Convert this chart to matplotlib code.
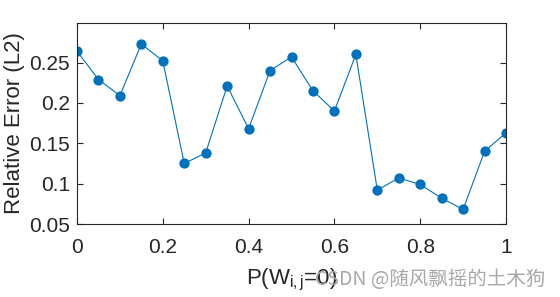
import matplotlib.pyplot as plt
import numpy as np

# Werte
p_null = np.arange(0, 1.0001, 0.05)
rel_fehler = [0.264, 0.229, 0.209, 0.273, 0.252, 0.125, 0.138, 0.221, 0.168, 0.240,
              0.257, 0.215, 0.190, 0.260, 0.092, 0.107, 0.099, 0.082, 0.068, 0.140, 0.163]
y_ticks = [0.05, 0.1, 0.15, 0.2, 0.25]
x_ticks = [0, 0.2, 0.4, 0.6, 0.8, 1]

plt.rcParams["font.family"] = ["Liberation Sans", "DejaVu Sans"]
plt.rcParams["mathtext.fontset"] = "custom"
plt.rcParams["mathtext.rm"] = "Liberation Sans"
plt.rcParams["mathtext.it"] = "Liberation Sans"

fig = plt.figure(figsize=(5.6, 2.97), dpi=100)
ax = fig.add_axes([77 / 560, 1 - 224 / 297, 429 / 560, 201 / 297])

ax.plot(p_null, rel_fehler, color="#0072BD", lw=0.8, marker="o", ms=7.4,
        markeredgewidth=0)

ax.set_xlim(0, 1)
ax.set_ylim(0.05, 0.299)
ax.set_xticks(x_ticks)
ax.set_xticklabels(["0", "0.2", "0.4", "0.6", "0.8", "1"])
ax.set_yticks(y_ticks)
ax.set_yticklabels(["0.05", "0.1", "0.15", "0.2", "0.25"])
ax.tick_params(direction="in", top=True, right=True, length=4, width=0.8,
               labelsize=15, colors="#262626")
ax.tick_params(axis="x", pad=10)
ax.tick_params(axis="y", pad=5)
for s in ax.spines.values():
    s.set_color("#262626")
    s.set_linewidth(0.8)

ax.set_ylabel("Relative Error (L2)", fontsize=16, color="#262626", labelpad=3)
ax.set_xlabel(r"P(W$_{\mathrm{i,j}}$=0)", fontsize=16, color="#262626", labelpad=7)

fig.text(0.973, 0.06, "CSDN @随风飘摇的土木狗", fontsize=14, color="#a8a8a8",
         ha="right", va="center", family=["Noto Sans CJK SC", "DejaVu Sans"])

fig.savefig("out.png", dpi=100)
